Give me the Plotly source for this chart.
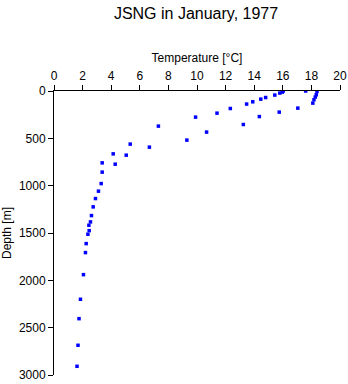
import plotly.graph_objects as go

temperature = [16.03, 15.96, 15.79, 15.44, 14.80, 14.46, 13.90, 13.47, 12.33, 11.40, 9.90, 7.30,
               17.60, 18.39, 18.34, 18.27, 18.18, 18.10, 17.05, 15.75, 14.36, 13.24, 10.67, 9.29,
               5.33, 6.67, 4.14, 5.05, 3.37, 4.28, 3.37, 3.30, 3.11, 2.90, 2.74, 2.62, 2.55,
               2.44, 2.46, 2.37, 2.25, 2.20, 2.06, 1.85, 1.75, 1.68, 1.61]
depth = [0, 12, 22, 43, 69, 86, 114, 138, 185, 234, 276, 371,
         0, 5, 40, 64, 93, 128, 181, 223, 270, 354, 434, 519,
         561, 593, 664, 678, 759, 773, 857, 978, 1058, 1136, 1224, 1316, 1383,
         1418, 1475, 1513, 1612, 1707, 1940, 2200, 2405, 2686, 2908]

x_ticks = list(range(0, 21, 2))
y_ticks = list(range(0, 3001, 500))

FONT = "Liberation Sans, Arial, Helvetica, sans-serif"

fig = go.Figure(go.Scatter(
    x=temperature, y=depth, mode="markers",
    marker=dict(symbol="square", size=3.5, color="#0000ff", line=dict(width=0)),
    hoverinfo="x+y",
))

fig.update_layout(
    width=348, height=384,
    margin=dict(l=54, r=8, t=91, b=9, autoexpand=False),
    paper_bgcolor="white", plot_bgcolor="white",
    showlegend=False,
    font=dict(family=FONT, size=12, color="black"),
    title=dict(text="JSNG in January, 1977", x=196 / 348, xanchor="center",
               y=1 - 13 / 384, yanchor="middle", yref="container",
               font=dict(family=FONT, size=16, color="black")),
    xaxis=dict(side="top", range=[0, 20], tickvals=x_ticks, ticktext=[str(v) for v in x_ticks],
               showgrid=False, zeroline=False, showline=True, linecolor="black", linewidth=1,
               ticks="outside", ticklen=5, tickcolor="black", automargin=False,
               tickfont=dict(size=12),
               title=dict(text="Temperature [°C]", standoff=4, font=dict(size=12))),
    yaxis=dict(range=[3000, 0], tickvals=y_ticks, ticktext=[str(v) for v in y_ticks],
               showgrid=False, zeroline=False, showline=True, linecolor="black", linewidth=1,
               ticks="outside", ticklen=5, tickcolor="black", automargin=False,
               tickfont=dict(size=12),
               title=dict(text="Depth [m]", standoff=4, font=dict(size=12))),
)

fig.write_html("out.html")
